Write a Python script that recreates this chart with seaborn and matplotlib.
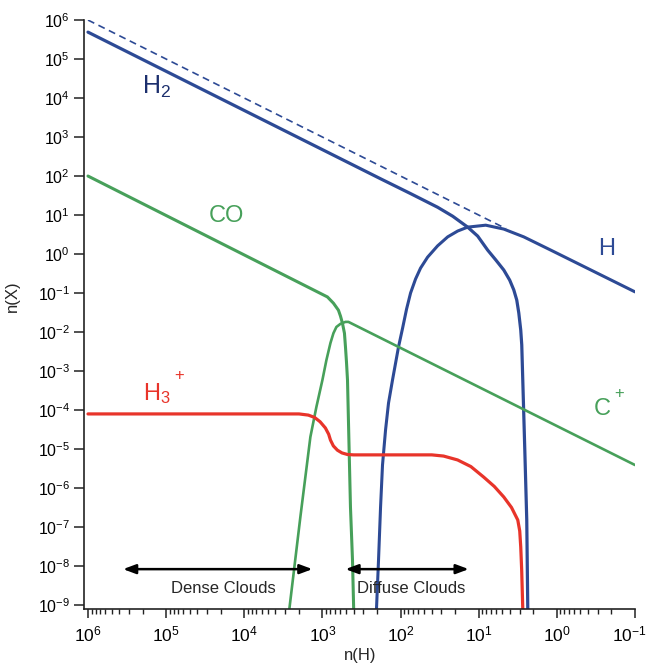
import matplotlib
matplotlib.use("Agg")
import numpy as np
import pandas as pd
import matplotlib.pyplot as plt
import seaborn as sns
from matplotlib.ticker import LogLocator, LogFormatterMathtext, NullLocator, NullFormatter
from matplotlib.transforms import ScaledTranslation

# Abundances n(X) against total density n(H); values stored as log10
h2_log_nh = [6.00, 2.256, 1.872, 1.526, 1.333, 1.141, 1.013, 0.885, 0.782, 0.679, 0.603,
             0.551, 0.513, 0.487, 0.462, 0.449, 0.436, 0.410, 0.385, 0.372]
h2_log_n = [5.69, 1.93, 1.55, 1.20, 0.97, 0.69, 0.46, 0.10, -0.15, -0.41, -0.67,
            -0.92, -1.18, -1.51, -1.95, -2.33, -3.23, -5.03, -6.82, -9.10]

h_log_nh = [2.308, 2.282, 2.256, 2.231, 2.192, 2.154, 2.103, 2.026, 1.974, 1.923, 1.872,
            1.808, 1.744, 1.654, 1.526, 1.397, 1.269, 1.141, 0.910, 0.679, 0.423, 0.077,
            -1.00]
h_log_n = [-9.10, -7.85, -6.49, -5.41, -4.51, -3.82, -3.23, -2.38, -1.90, -1.41, -1.00,
           -0.64, -0.36, -0.08, 0.21, 0.44, 0.59, 0.69, 0.74, 0.64, 0.44, 0.10,
           -0.97]

co_log_nh = [6.00, 2.936, 2.859, 2.795, 2.769, 2.744, 2.718, 2.705, 2.692, 2.679, 2.667,
             2.641, 2.615, 2.600]
co_log_n = [2.00, -1.10, -1.26, -1.44, -1.59, -1.77, -2.03, -2.38, -2.77, -3.23, -4.26,
            -6.49, -7.85, -9.10]

cp_log_nh = [3.423, 3.282, 3.154, 3.077, 3.000, 2.949, 2.897, 2.859, 2.821, 2.769, 2.705,
             2.667, -1.00]
cp_log_n = [-9.10, -6.74, -4.69, -3.92, -3.23, -2.72, -2.28, -2.03, -1.87, -1.79, -1.74,
            -1.74, -5.41]

h3p_log_nh = [6.00, 3.30, 3.18, 3.10, 3.03, 2.962, 2.92, 2.897, 2.86, 2.808, 2.75, 2.68,
              2.60, 1.60, 1.45, 1.27, 1.10, 0.936, 0.80, 0.679, 0.58, 0.50, 0.475,
              0.462, 0.45, 0.436]
h3p_log_n = [-4.10, -4.10, -4.13, -4.19, -4.30, -4.46, -4.62, -4.77, -4.92, -5.03, -5.10,
             -5.14, -5.15, -5.15, -5.18, -5.28, -5.45, -5.72, -5.96, -6.23, -6.50, -6.82,
             -7.10, -7.51, -8.10, -9.10]

# fully atomic limit n(X) = n(H)
atomic_log_nh = [6.00, 0.65]

BLUE = "#2d4a95"
NAVY = "#1c2f6d"
GREEN = "#47a05a"
RED = "#e8342a"

sns.set_style("ticks")
plt.rcParams["font.family"] = ["Liberation Sans", "DejaVu Sans"]
plt.rcParams["mathtext.fontset"] = "custom"
plt.rcParams["mathtext.rm"] = "Liberation Sans"
plt.rcParams["mathtext.it"] = "Liberation Sans:italic"
plt.rcParams["mathtext.bf"] = "Liberation Sans:bold"

fig = plt.figure(figsize=(6.5, 6.64), dpi=100)
ax = fig.add_axes([0.1292, 0.0828, 0.8477, 0.887])

series = [
    ("H2", h2_log_nh, h2_log_n, BLUE, 2.3),
    ("H", h_log_nh, h_log_n, BLUE, 2.2),
    ("CO", co_log_nh, co_log_n, GREEN, 2.2),
    ("C+", cp_log_nh, cp_log_n, GREEN, 1.9),
    ("H3+", h3p_log_nh, h3p_log_n, RED, 2.3),
]
frames = []
for name, lx, ly, _, _ in series:
    frames.append(pd.DataFrame({"species": name,
                                "nH": 10.0 ** np.asarray(lx),
                                "nX": 10.0 ** np.asarray(ly)}))
df = pd.concat(frames, ignore_index=True)

for name, _, _, color, lw in series:
    sns.lineplot(data=df[df["species"] == name], x="nH", y="nX", ax=ax,
                 color=color, lw=lw, sort=False, estimator=None,
                 solid_capstyle="round", solid_joinstyle="round")

atomic = pd.DataFrame({"nH": 10.0 ** np.asarray(atomic_log_nh),
                       "nX": 10.0 ** np.asarray(atomic_log_nh)})
sns.lineplot(data=atomic, x="nH", y="nX", ax=ax, color=BLUE, lw=1.2,
             linestyle=(0, (4.2, 2.8)), sort=False, estimator=None)

ax.set_xscale("log")
ax.set_yscale("log")
ax.set_xlim(10 ** 6.0513, 10 ** -1)
ax.set_ylim(10 ** -9.1026, 10 ** 6)

ax.xaxis.set_major_locator(LogLocator(base=10, numticks=20))
ax.xaxis.set_minor_locator(LogLocator(base=10, subs=np.arange(2, 10), numticks=20))
ax.xaxis.set_major_formatter(LogFormatterMathtext())
ax.xaxis.set_minor_formatter(NullFormatter())
ax.yaxis.set_major_locator(LogLocator(base=10, numticks=20))
ax.yaxis.set_minor_locator(NullLocator())
ax.yaxis.set_major_formatter(LogFormatterMathtext())

for side in ("top", "right"):
    ax.spines[side].set_visible(False)
for side in ("left", "bottom"):
    ax.spines[side].set_linewidth(1.2)
    ax.spines[side].set_color("#222222")

ax.tick_params(axis="x", which="major", length=6.5, width=1.1, labelsize=12.5, pad=5,
               color="#222222", labelcolor="black")
ax.tick_params(axis="x", which="minor", length=3.8, width=1.0, color="#222222")
ax.tick_params(axis="y", which="major", length=7, width=1.1, labelsize=11.5, pad=3,
               color="#222222", labelcolor="black")

ax.set_xlabel("n(H)", fontsize=12)
ax.set_ylabel("n(X)", fontsize=12)
ax.xaxis.set_label_coords(0.501, -0.066)
ax.yaxis.set_label_coords(-0.116, 0.531)

# species labels
ax.text(10 ** 5.31, 10 ** 4.10, r"H$_\mathregular{2}$", color=NAVY, fontsize=18,
        ha="left", va="baseline")
ax.text(10 ** 4.46, 10 ** 0.82, "CO", color=GREEN, fontsize=17, ha="left", va="baseline")
ax.text(10 ** -0.526, 10 ** -0.03, "H", color=BLUE, fontsize=17, ha="left", va="baseline")
ax.text(10 ** -0.474, 10 ** -4.13, "C", color=GREEN, fontsize=17, ha="left", va="baseline")
ax.text(10 ** -0.74, 10 ** -3.69, "+", color=GREEN, fontsize=12, ha="left", va="baseline")
ax.text(10 ** 5.295, 10 ** -3.74, r"H$_\mathregular{3}$", color=RED, fontsize=17,
        ha="left", va="baseline")
ax.text(10 ** 4.90, 10 ** -3.23, "+", color=RED, fontsize=12, ha="left", va="baseline")

# density regimes
arrow_y = 10 ** -8.08
arrow_kw = dict(arrowstyle="<|-|>,head_length=0.75,head_width=0.28", color="black",
                lw=1.8, shrinkA=0, shrinkB=0)
ax.annotate("", xy=(10 ** 5.551, arrow_y), xytext=(10 ** 3.128, arrow_y),
            arrowprops=arrow_kw)
ax.annotate("", xy=(10 ** 2.705, arrow_y), xytext=(10 ** 1.128, arrow_y),
            arrowprops=arrow_kw)
ax.text(10 ** 4.27, 10 ** -8.69, "Dense Clouds", fontsize=12, ha="center", va="baseline")
ax.text(10 ** 1.859, 10 ** -8.69, "Diffuse Clouds", fontsize=12, ha="center", va="baseline")

# nudge the rightmost x tick label so it stays inside the canvas
fig.canvas.draw()
for tick in ax.xaxis.get_major_ticks():
    if np.isclose(tick.get_loc(), 0.1):
        lbl = tick.label1
        lbl.set_transform(lbl.get_transform()
                          + ScaledTranslation(-0.06, 0, fig.dpi_scale_trans))

fig.savefig("out.png", dpi=100, facecolor="white")
